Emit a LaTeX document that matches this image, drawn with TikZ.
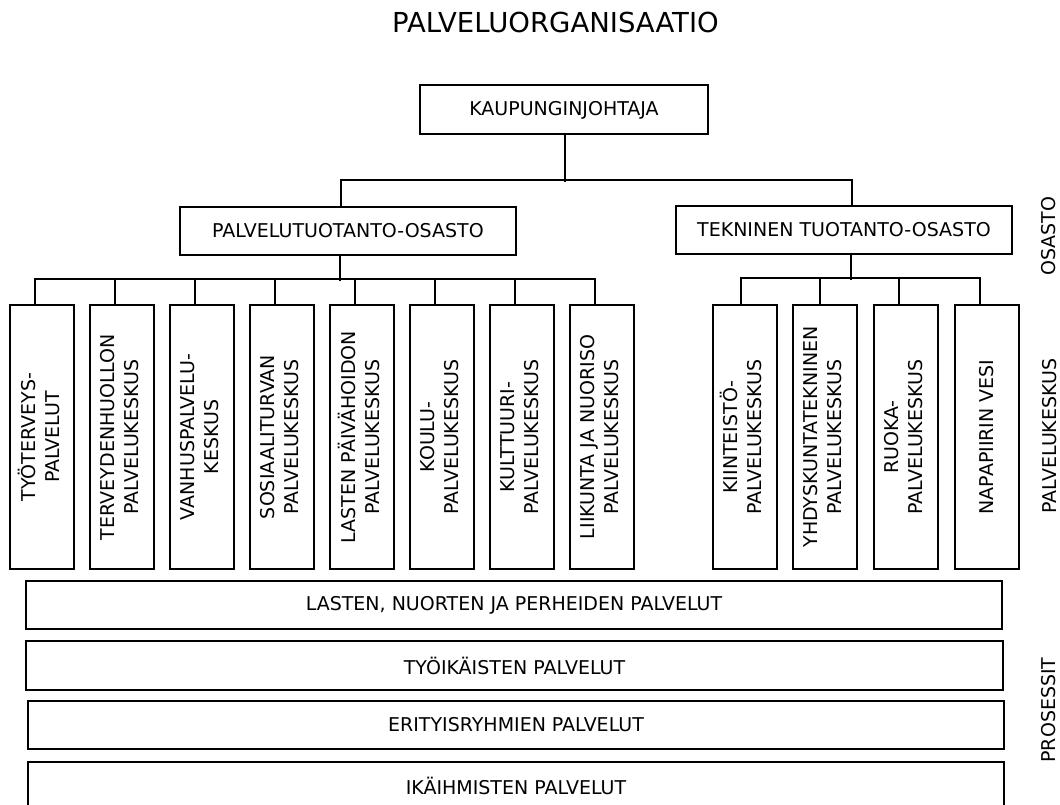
\documentclass[tikz,border=0pt]{standalone}
\usepackage{fontspec}
\setmainfont{DejaVu Sans}
\usetikzlibrary{calc}
\newcommand\txtsize{\fontsize{19}{24}\selectfont}
\newcommand\vt[2]{\rotatebox{90}{\begin{tabular}{@{}c@{}}#1\\#2\end{tabular}}}
\tikzset{
  box/.style={draw, line width=2pt, inner sep=0pt, font=\txtsize},
  hbox/.style={box, minimum width=976pt, minimum height=48pt},
  vbox/.style={box, minimum width=64pt, minimum height=264pt},
  dept/.style={box, minimum width=336pt, minimum height=48pt},
  side/.style={font=\txtsize, inner sep=0pt, rotate=90},
  conn/.style={line width=2pt}
}
\begin{document}
\begin{tikzpicture}[x=1pt,y=-1pt]
\useasboundingbox[fill=white] (0,0) rectangle (1060,805);
\node[font=\fontsize{27.5}{32}\selectfont, inner sep=0pt] (title) at (555.5,22.5) {PALVELUORGANISAATIO};
\node[box, minimum width=288pt, minimum height=49pt] (kj) at (564,110) {KAUPUNGINJOHTAJA};
\node[dept] (pv) at (348,231) {PALVELUTUOTANTO-OSASTO};
\node[dept] (tk) at (844,230) {TEKNINEN TUOTANTO-OSASTO};

\node[vbox] (b1) at (42,437) {\vt{TYÖTERVEYS-}{PALVELUT}};
\node[vbox] (b2) at (122,437) {\vt{TERVEYDENHUOLLON}{PALVELUKESKUS}};
\node[vbox] (b3) at (202,437) {\vt{VANHUSPALVELU-}{KESKUS}};
\node[vbox] (b4) at (282,437) {\vt{SOSIAALITURVAN}{PALVELUKESKUS}};
\node[vbox] (b5) at (362,437) {\vt{LASTEN PÄIVÄHOIDON}{PALVELUKESKUS}};
\node[vbox] (b6) at (442,437) {\vt{KOULU-}{PALVELUKESKUS}};
\node[vbox] (b7) at (522,437) {\vt{KULTTUURI-}{PALVELUKESKUS}};
\node[vbox] (b8) at (602,437) {\vt{LIIKUNTA JA NUORISO}{PALVELUKESKUS}};

\node[vbox] (r1) at (744.5,437) {\vt{KIINTEISTÖ-}{PALVELUKESKUS}};
\node[vbox] (r2) at (824.5,437) {\vt{YHDYSKUNTATEKNINEN}{PALVELUKESKUS}};
\node[vbox] (r3) at (906,437) {\vt{RUOKA-}{PALVELUKESKUS}};
\node[vbox] (r4) at (986.5,437) {\rotatebox{90}{NAPAPIIRIN VESI}};

\node[hbox] (p1) at (514,605) {LASTEN, NUORTEN JA PERHEIDEN PALVELUT};
\node[hbox, minimum width=977pt, minimum height=49pt] (p2) at (514.5,665.5) {TYÖIKÄISTEN PALVELUT};
\node[hbox] (p3) at (516,725) {ERITYISRYHMIEN PALVELUT};
\node[hbox] (p4) at (516,786) {IKÄIHMISTEN PALVELUT};

\node[side] (lo) at (1049,236) {OSASTO};
\node[side] (lp) at (1050,436) {PALVELUKESKUS};
\node[side] (lr) at (1049,710) {PROSESSIT};

% top level
\draw[conn] ($(kj.south)+(1,0)$) -- ++(0,47);
\draw[conn] ($(pv.north)+(-7,0)$) -- ++(0,-26) -| ($(tk.north)+(8,0)$);
% left group
\draw[conn] ($(pv.south)+(-8,0)$) -- ++(0,25);
\draw[conn] ($(b1.north)+(-7,0)$) -- ++(0,-25) -| ($(b8.north)+(-7,0)$);
\foreach \b in {b2,b3,b4,b5,b6,b7}
  \draw[conn] ($(\b.north)+(-7,0)$) -- ++(0,-25);
% right group
\draw[conn] ($(tk.south)+(7,0)$) -- ++(0,25);
\draw[conn] ($(r1.north)+(-4,0)$) -- ++(0,-26) -| ($(r4.north)+(-7,0)$);
\draw[conn] ($(r2.north)+(-5,0)$) -- ++(0,-26);
\draw[conn] ($(r3.north)+(-7,0)$) -- ++(0,-26);
\end{tikzpicture}
\end{document}
